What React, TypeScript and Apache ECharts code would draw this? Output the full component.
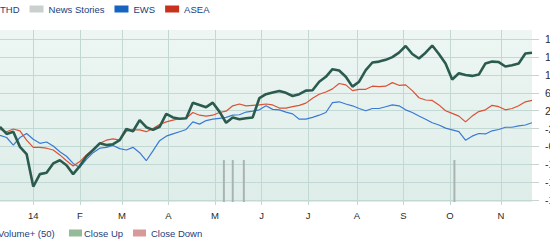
import React, { useEffect, useRef } from 'react';
import * as echarts from 'echarts';

// ---- calendar (US trading days) ----
const START_DATE = '2013-12-10';
const END_DATE = '2014-11-21';
const HOLIDAYS = ['2013-12-25', '2014-01-01', '2014-01-20', '2014-02-17', '2014-04-18', '2014-05-26', '2014-07-04', '2014-09-01'];
const SAMPLE_STEP = 3; // values below are read every 3 trading days

// ---- series values (% change), one value every SAMPLE_STEP trading days ----
const thdValues = [
  -1.6, -3.2, -2.7, -6.1, -7.7, -15.0, -12.2, -11.9, -9.8, -9.1, -10.2, -12.2, -10.4, -8.2, -6.8, -5.3,
  -5.7, -5.5, -4.6, -2.1, -2.6, -0.1, -1.7, -2.3, -1.6, 1.3, 0.5, 0.2, 0.3, 3.8, 3.3,
  2.8, 3.8, 1.8, -0.7, 0.5, 0.1, 0.3, 0.5, 4.8, 5.7, 6.1, 6.4, 6.0, 5.3, 5.7, 6.5, 6.6, 8.5, 9.6, 11.3,
  11.0, 9.6, 7.4, 8.5, 11.1, 12.8, 13.0, 13.4, 14.0,
  15.0, 16.5, 14.7, 13.7, 15.0, 16.6, 14.7, 12.6, 9.0, 10.4, 10.0, 9.8, 10.1, 12.6, 13.0, 12.9, 11.9,
  12.2, 12.6, 14.8, 15.0,
];
const ewsValues = [
  -3.5, -4.0, -5.7, -4.0, -3.1, -4.4, -5.3, -5.0, -5.9, -7.2, -8.2, -9.8, -10.7, -8.9, -7.4, -6.4,
  -6.2, -5.8, -6.5, -6.8, -6.2, -7.4, -9.2, -7.0, -4.7, -3.7, -3.2, -2.7, -2.2, -0.5, -1.0,
  -0.2, 0.1, 0.3, 0.5, 1.0, 1.1, 1.7, 1.9, 2.2, 3.1, 2.3, 2.2, 1.7, 1.3, 0.1, 0.1, 0.5, 1.0, 1.6, 3.8,
  4.0, 3.5, 3.1, 2.5, 2.0, 2.5, 2.5, 2.9, 3.3,
  3.1, 2.2, 1.6, 0.8, 0.1, -0.7, -1.2, -1.9, -2.3, -2.7, -4.6, -3.7, -3.1, -3.2, -2.5, -2.2, -1.7,
  -1.7, -1.4, -1.2, -0.7,
];
const aseaValues = [
  -2.2, -2.7, -2.1, -2.5, -4.6, -6.2, -6.2, -6.4, -6.8, -7.9, -9.2, -10.4, -9.4, -7.9, -6.7, -5.3,
  -4.6, -4.3, -4.6, -2.6, -2.3, -2.3, -2.7, -2.0, -1.1, -0.5, -0.1, 0.2, 0.3, 1.6, 1.0,
  0.8, 1.0, 1.6, 1.9, 3.1, 3.5, 3.1, 3.2, 3.3, 3.5, 3.3, 2.6, 2.6, 2.9, 3.2, 3.7, 4.8, 5.7, 6.2, 6.9,
  8.1, 7.8, 6.5, 6.8, 6.8, 7.5, 7.4, 7.5, 8.3,
  7.7, 7.8, 6.5, 4.9, 4.4, 4.3, 3.3, 2.0, 1.4, 0.8, -0.5, 0.8, 1.8, 2.2, 3.2, 2.9, 2.2, 2.5, 3.1,
  4.0, 4.3,
];

// ---- news stories ----
const newsDates = ['2014-05-07', '2014-05-13', '2014-05-20', '2014-10-03'];
const newsCounts = [1, 1, 1, 1];

// ---- axis ----
const Y_MIN = -18;
const Y_MAX = 18;
const Y_STEP = 4;
const MONTH_LETTERS = ['J', 'F', 'M', 'A', 'M', 'J', 'J', 'A', 'S', 'O', 'N', 'D'];

function buildTradingDays(): string[] {
  const out: string[] = [];
  const d = new Date(START_DATE + 'T00:00:00Z');
  const end = new Date(END_DATE + 'T00:00:00Z');
  while (d.getTime() <= end.getTime()) {
    const wd = d.getUTCDay();
    const s = d.toISOString().slice(0, 10);
    if (wd !== 0 && wd !== 6 && HOLIDAYS.indexOf(s) < 0) out.push(s);
    d.setUTCDate(d.getUTCDate() + 1);
  }
  return out;
}

const FONT = '"Liberation Sans", Arial, Helvetica, sans-serif';
const GRID_COLOR = '#c2d8d2';

export default function App() {
  const ref = useRef<HTMLDivElement>(null);

  useEffect(() => {
    if (!ref.current) return;
    const chart = echarts.init(ref.current, undefined, { renderer: 'svg' });
    const days = buildTradingDays();
    const isMonthStart = (i: number) => i > 0 && days[i].slice(5, 7) !== days[i - 1].slice(5, 7);
    const monthLabel = (v: string) => {
      const m = parseInt(v.slice(5, 7), 10) - 1;
      return m === 0 ? v.slice(2, 4) : MONTH_LETTERS[m];
    };
    const toData = (vals: number[]) => vals.map((v, k) => [k * SAMPLE_STEP, v]);
    const newsData = newsDates.map((d, k) => [days.indexOf(d), newsCounts[k]]);

    const LEFT = 40;
    const RIGHT = 28;

    chart.setOption({
      animation: false,
      textStyle: { fontFamily: FONT },
      legend: {
        left: 21,
        top: 4,
        padding: 0,
        icon: 'rect',
        itemWidth: 14,
        itemHeight: 7,
        itemGap: 10,
        selectedMode: false,
        textStyle: { color: '#24407a', fontSize: 9.5, fontFamily: FONT },
        data: [
          { name: 'THD', itemStyle: { color: '#2a5a4d' } },
          { name: 'News Stories', itemStyle: { color: '#c9d0ce' } },
          { name: 'EWS', itemStyle: { color: '#1565c0' } },
          { name: 'ASEA', itemStyle: { color: '#c8321c' } },
        ],
      },
      grid: [
        {
          left: LEFT, right: RIGHT, top: 30, bottom: 43,
          show: true,
          borderWidth: 0,
          backgroundColor: new echarts.graphic.LinearGradient(0, 0, 0, 1, [
            { offset: 0, color: '#edf6f3' },
            { offset: 1, color: '#deede9' },
          ]),
          outerBoundsMode: 'none',
        },
        { left: LEFT, right: RIGHT, top: 39.3, bottom: 45, outerBoundsMode: 'none' },
      ],
      xAxis: [
        {
          type: 'category',
          gridIndex: 0,
          data: days,
          boundaryGap: false,
          axisLine: { show: false },
          axisTick: {
            show: true,
            interval: (i: number) => isMonthStart(i),
            length: 3,
            lineStyle: { color: GRID_COLOR },
          },
          splitLine: {
            show: true,
            interval: (i: number) => isMonthStart(i),
            lineStyle: { color: GRID_COLOR, width: 1 },
          },
          axisLabel: {
            interval: (i: number) => isMonthStart(i),
            formatter: (v: string) => monthLabel(v),
            color: '#2a2a2a',
            fontSize: 9.5,
            margin: 8,
            fontFamily: FONT,
          },
        },
        { type: 'category', gridIndex: 1, data: days, boundaryGap: false, show: false },
      ],
      yAxis: [
        { type: 'value', gridIndex: 0, min: 0, max: 4.1, show: false },
        {
          type: 'value',
          gridIndex: 1,
          position: 'right',
          min: Y_MIN,
          max: Y_MAX,
          interval: Y_STEP,
          axisLine: { show: false },
          axisTick: { show: true, length: 7, lineStyle: { color: '#c9d3d0' } },
          splitLine: { show: true, lineStyle: { color: GRID_COLOR, width: 1 } },
          axisLabel: { color: '#2a2a2a', fontSize: 10.5, margin: 13, fontFamily: FONT },
        },
      ],
      series: [
        {
          name: 'News Stories',
          type: 'bar',
          xAxisIndex: 0,
          yAxisIndex: 0,
          barWidth: 2,
          silent: true,
          itemStyle: { color: '#a9b4b0' },
          data: newsData,
        },
        {
          name: 'EWS',
          type: 'line',
          xAxisIndex: 1,
          yAxisIndex: 1,
          symbol: 'none',
          silent: true,
          lineStyle: { width: 1.2, color: '#3a7ad4' },
          itemStyle: { color: '#3a7ad4' },
          data: toData(ewsValues),
          z: 3,
        },
        {
          name: 'ASEA',
          type: 'line',
          xAxisIndex: 1,
          yAxisIndex: 1,
          symbol: 'none',
          silent: true,
          lineStyle: { width: 1.2, color: '#dc5034' },
          itemStyle: { color: '#dc5034' },
          data: toData(aseaValues),
          z: 3,
        },
        {
          name: 'THD',
          type: 'line',
          xAxisIndex: 1,
          yAxisIndex: 1,
          symbol: 'none',
          silent: true,
          lineStyle: { width: 2.6, color: '#2b5b4e' },
          itemStyle: { color: '#2b5b4e' },
          data: toData(thdValues),
          z: 4,
        },
      ],
      graphic: [
        {
          type: 'text', x: 38, y: 233,
          style: { text: 'Volume+ (50)', fill: '#24407a', font: `9.5px ${FONT}`, verticalAlign: 'middle' },
        },
        { type: 'rect', shape: { x: 109, y: 229.5, width: 13, height: 7 }, style: { fill: '#93bb98' } },
        {
          type: 'text', x: 124, y: 233,
          style: { text: 'Close Up', fill: '#24407a', font: `9.5px ${FONT}`, verticalAlign: 'middle' },
        },
        { type: 'rect', shape: { x: 173, y: 229.5, width: 13, height: 7 }, style: { fill: '#d89a98' } },
        {
          type: 'text', x: 191, y: 233,
          style: { text: 'Close Down', fill: '#24407a', font: `9.5px ${FONT}`, verticalAlign: 'middle' },
        },
      ],
    });

    return () => chart.dispose();
  }, []);

  return (
    <div style={{ position: 'absolute', left: 0, top: 0, width: 550, height: 245, overflow: 'hidden', background: '#fff' }}>
      <div ref={ref} style={{ position: 'absolute', left: -40, top: 0, width: 600, height: 245 }} />
    </div>
  );
}
